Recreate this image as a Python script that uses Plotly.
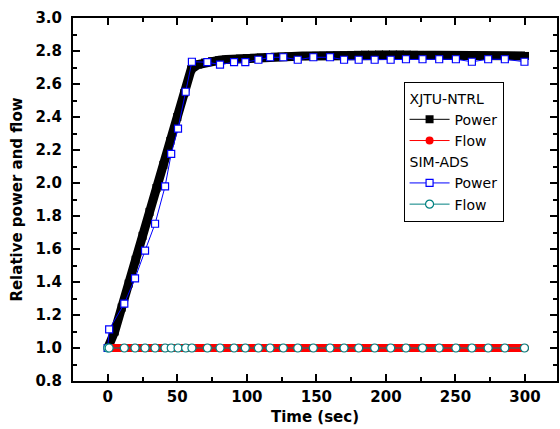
import plotly.graph_objects as go

# ---------------- data ----------------
xjtu_time = [0, 5, 10, 15, 20, 25, 30, 35, 40, 45, 50, 55, 60, 65, 70, 75, 80, 85, 90, 95,
             100, 105, 110, 115, 120, 125, 130, 135, 140, 145, 150, 155, 160, 165, 170, 175,
             180, 185, 190, 195, 200, 205, 210, 215, 220, 225, 230, 235, 240, 245, 250, 255,
             260, 265, 270, 275, 280, 285, 290, 295, 300]
xjtu_power = [1.00, 1.10, 1.245, 1.39, 1.535, 1.68, 1.825, 1.97, 2.11, 2.255, 2.40, 2.545,
              2.69, 2.718, 2.73, 2.738, 2.744, 2.748, 2.751, 2.754, 2.757, 2.759, 2.761,
              2.763, 2.765, 2.766, 2.767, 2.768, 2.769, 2.770, 2.771, 2.772, 2.773, 2.774,
              2.775, 2.776, 2.777, 2.778, 2.778, 2.779, 2.779, 2.779, 2.779, 2.778, 2.777,
              2.776, 2.775, 2.774, 2.773, 2.772, 2.772, 2.771, 2.771, 2.771, 2.771, 2.770,
              2.770, 2.770, 2.770, 2.770, 2.770]
xjtu_flow = [1.0, 1.0, 1.0, 1.0, 1.0, 1.0, 1.0, 1.0, 1.0, 1.0, 1.0, 1.0, 1.0, 1.0, 1.0, 1.0,
             1.0, 1.0, 1.0, 1.0, 1.0, 1.0, 1.0, 1.0, 1.0, 1.0, 1.0, 1.0, 1.0, 1.0, 1.0, 1.0,
             1.0, 1.0, 1.0, 1.0, 1.0, 1.0, 1.0, 1.0, 1.0, 1.0, 1.0, 1.0, 1.0, 1.0, 1.0, 1.0,
             1.0, 1.0, 1.0, 1.0, 1.0, 1.0, 1.0, 1.0, 1.0, 1.0, 1.0, 1.0, 1.0]

sim_time = [0, 1, 11.9, 19.6, 26.8, 34, 41.2, 45.6, 50.5, 56, 60.5, 71.6, 80.7, 90.8, 98.9,
            108.3, 116.7, 126.2, 136.6, 147.8, 159.8, 169.9, 180.4, 191.9, 203.4, 214.4,
            226.3, 238.3, 250.3, 261.8, 273.5, 285.5, 299.6]
sim_power = [1.0, 1.113, 1.269, 1.422, 1.59, 1.753, 1.979, 2.177, 2.33, 2.553, 2.735, 2.732,
             2.718, 2.732, 2.732, 2.747, 2.762, 2.762, 2.747, 2.762, 2.762, 2.747, 2.747,
             2.747, 2.747, 2.75, 2.75, 2.75, 2.75, 2.735, 2.75, 2.75, 2.735]
sim_flow = [1.0, 1.0, 1.0, 1.0, 1.0, 1.0, 1.0, 1.0, 1.0, 1.0, 1.0, 1.0, 1.0, 1.0, 1.0, 1.0,
            1.0, 1.0, 1.0, 1.0, 1.0, 1.0, 1.0, 1.0, 1.0, 1.0, 1.0, 1.0, 1.0, 1.0, 1.0, 1.0, 1.0]

x_title = "Time (sec)"
y_title = "Relative power and flow"

FONT = "DejaVu Sans, Liberation Sans, Arial, sans-serif"

fig = go.Figure()

# XJTU-NTRL power: dense thick band + marker trace
fig.add_trace(go.Scatter(x=xjtu_time, y=xjtu_power, mode="lines",
                         line=dict(color="black", width=9),
                         showlegend=False, hoverinfo="skip"))
fig.add_trace(go.Scatter(x=xjtu_time, y=xjtu_power, mode="lines+markers", name="Power",
                         line=dict(color="black", width=1),
                         marker=dict(symbol="square", size=8, color="black"),
                         legendgroup="xjtu", legendgrouptitle=dict(text="XJTU-NTRL")))
# XJTU-NTRL flow
fig.add_trace(go.Scatter(x=xjtu_time, y=xjtu_flow, mode="lines",
                         line=dict(color="#ff0000", width=8),
                         showlegend=False, hoverinfo="skip"))
fig.add_trace(go.Scatter(x=xjtu_time, y=xjtu_flow, mode="lines+markers", name="Flow",
                         line=dict(color="#ff0000", width=1),
                         marker=dict(symbol="circle", size=8, color="#ff0000"),
                         legendgroup="xjtu"))
# SIM-ADS power
fig.add_trace(go.Scatter(x=sim_time, y=sim_power, mode="lines+markers", name="Power",
                         line=dict(color="#0000ff", width=1),
                         marker=dict(symbol="square", size=7, color="white",
                                     line=dict(color="#0000ff", width=1.2)),
                         legendgroup="sim", legendgrouptitle=dict(text="SIM-ADS")))
# SIM-ADS flow
fig.add_trace(go.Scatter(x=sim_time, y=sim_flow, mode="lines+markers", name="Flow",
                         line=dict(color="#008080", width=1),
                         marker=dict(symbol="circle", size=8, color="white",
                                     line=dict(color="#008080", width=1.2)),
                         legendgroup="sim"))

axis_common = dict(
    showline=True, linecolor="black", linewidth=2, mirror="ticks",
    ticks="inside", ticklen=7, tickwidth=2, tickcolor="black",
    showgrid=False, zeroline=False, automargin=False,
    tickfont=dict(family=FONT, size=15, color="black", weight="bold"),
)
title_font = dict(family=FONT, size=15, color="black", weight="bold")

fig.update_xaxes(range=[-25, 323], tickmode="linear", tick0=0, dtick=50,
                 minor=dict(ticks="inside", ticklen=4, tickwidth=1.5, tickcolor="black",
                            dtick=25, tick0=0, showgrid=False),
                 title=dict(text=x_title, font=title_font, standoff=6),
                 ticklabelstandoff=1,
                 **axis_common)
fig.update_yaxes(range=[0.8, 3.0], tickmode="linear", tick0=0.8, dtick=0.2,
                 tickformat=".1f",
                 minor=dict(ticks="inside", ticklen=4, tickwidth=1.5, tickcolor="black",
                            dtick=0.1, tick0=0.8, showgrid=False),
                 title=dict(text=y_title, font=title_font, standoff=9),
                 ticklabelstandoff=6,
                 **axis_common)

fig.update_layout(
    width=560, height=429,
    margin=dict(l=73, r=3, t=18, b=48),
    paper_bgcolor="white", plot_bgcolor="white",
    font=dict(family=FONT, size=14, color="black"),
    legend=dict(x=0.683, y=0.825, xanchor="left", yanchor="top",
                bgcolor="white", bordercolor="black", borderwidth=1,
                font=dict(family=FONT, size=14, color="black"),
                grouptitlefont=dict(family=FONT, size=14, color="black"),
                traceorder="grouped", tracegroupgap=0, itemwidth=40),
    showlegend=True,
)

fig.write_html("out.html", config={"displayModeBar": False},
               post_script="document.body.style.margin='0';")
